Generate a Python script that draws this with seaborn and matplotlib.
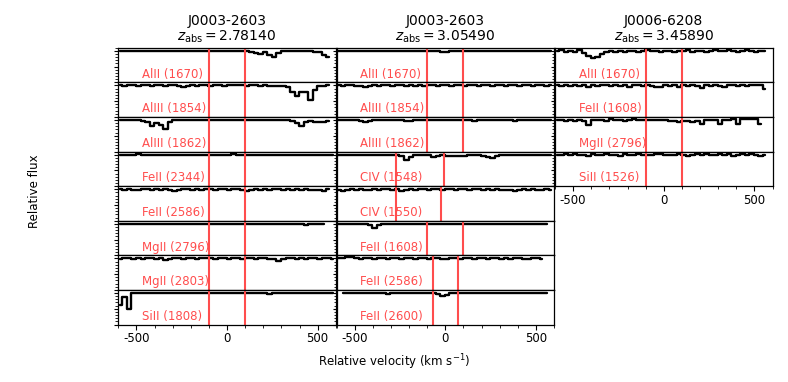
import numpy as np
import pandas as pd
import matplotlib
matplotlib.use("Agg")
import matplotlib.pyplot as plt
import seaborn as sns
from matplotlib.ticker import MultipleLocator

sns.set_style("ticks")
plt.rcParams['font.family'] = ['DejaVu Sans']
plt.rcParams['axes.unicode_minus'] = False
plt.rcParams['text.color'] = 'black'
plt.rcParams['axes.edgecolor'] = 'black'
plt.rcParams['axes.labelcolor'] = 'black'
plt.rcParams['xtick.color'] = 'black'
plt.rcParams['ytick.color'] = 'black'

nan = np.nan

# velocity bin centres (km/s)
velocity = [-590, -565, -540, -515, -490, -465, -440, -415, -390, -365, -340, -315,
            -290, -265, -240, -215, -190, -165, -140, -115, -90, -65, -40, -15,
            10, 35, 60, 85, 110, 135, 160, 185, 210, 235, 260, 285, 310, 335, 360, 385,
            410, 435, 460, 485, 510, 535, 560, 585]

# ---------- column 1 : J0003-2603, z = 2.78140 ----------
c1_alii_1670 = [1.00, 0.99, 1.00, 1.01, 1.00, 0.99, 1.00, 1.00, 0.99, 1.00, 1.01, 1.00,
                0.99, 1.00, 1.00, 0.99, 1.00, 1.01, 1.00, 1.00, 0.99, 1.00, 1.00, 0.99,
                1.00, 1.00, 1.01, 1.00, 0.99, 0.97, 0.92, 0.90, 0.95, 0.88, 0.81, 0.93,
                0.99, 1.00, 1.00, 0.99, 1.00, 0.99, 0.98, 0.97, 0.96, 0.88, 0.82, nan]
c1_aliii_1854 = [1.00, 0.99, 1.00, 1.00, 0.99, 1.00, 1.00, 0.99, 1.00, 1.00, 0.99, 1.00,
                 1.00, 0.97, 0.95, 0.97, 1.00, 0.99, 1.00, 1.00, 0.99, 1.00, 1.00, 0.99,
                 1.00, 1.01, 1.02, 1.00, 0.99, 1.00, 1.00, 0.99, 1.00, 0.99, 0.98, 0.97,
                 0.99, 0.95, 0.80, 0.66, 0.78, 0.80, 0.55, 0.85, 0.97, 0.99, 1.00, nan]
c1_aliii_1862 = [1.00, 0.99, 1.00, 1.00, 0.99, 0.98, 0.95, 0.80, 0.90, 0.85, 0.73, 0.95,
                 1.00, 1.00, 0.99, 1.00, 1.00, 0.99, 1.00, 1.00, 1.00, 0.99, 1.00, 1.00,
                 0.99, 1.00, 1.00, 1.00, 0.99, 1.00, 1.00, 0.99, 1.00, 1.00, 0.99, 1.00,
                 1.00, 0.99, 0.98, 0.92, 0.82, 0.95, 0.96, 0.95, 0.95, 0.94, 0.97, nan]
c1_feii_2344 = [1.00, 1.00, 0.99, 1.00, 1.01, 1.00, 0.99, 1.00, 1.00, 0.99, 1.00, 1.00,
                0.98, 1.00, 1.00, 0.99, 1.00, 1.00, 0.99, 1.00, 1.00, 1.00, 0.99, 1.00,
                1.00, 1.01, 1.00, 0.99, 1.00, 1.00, 0.99, 1.00, 1.00, 0.99, 1.00, 1.00,
                0.98, 1.00, 1.00, 0.99, 1.00, 1.00, 0.99, 1.00, 1.00, 1.00, 0.99, 1.00]
c1_feii_2586 = [1.00, 0.99, 1.00, 0.98, 0.99, 1.00, 1.00, 0.99, 1.00, 0.99, 1.00, 0.99,
                0.93, 0.99, 1.00, 1.00, 0.99, 1.00, 0.99, 1.00, 1.00, 0.99, 1.00, 1.00,
                0.99, 1.00, 1.00, 0.99, 0.94, 0.98, 1.00, 0.99, 1.00, 0.99, 1.00, 1.00,
                0.99, 1.00, 0.99, 1.00, 0.98, 1.00, 0.99, 0.98, 0.99, 0.95, 1.00, nan]
c1_mgii_2796 = [1.00, 1.00, 0.99, 1.00, 1.00, 0.99, 1.00, 1.00, 0.99, 0.99, 1.00, 1.00,
                0.99, 1.00, 0.98, 0.99, 1.00, 1.00, 0.99, 1.00, 1.00, 0.99, 1.00, 1.00,
                1.00, 0.99, 1.00, 1.00, 0.99, 1.00, 1.00, 0.99, 1.00, 1.00, 0.99, 1.00,
                1.00, 0.99, 1.00, 1.00, 0.99, 0.95, 1.00, 0.99, 1.00, 0.99, nan, nan]
c1_mgii_2803 = [0.99, 1.00, 1.00, 0.99, 1.00, 0.99, 1.00, 1.00, 0.99, 1.00, 0.94, 0.99,
                1.00, 1.00, 0.99, 1.00, 1.00, 0.99, 1.00, 1.00, 1.00, 0.99, 1.00, 1.00,
                0.99, 1.00, 1.00, 0.99, 1.00, 1.00, 0.99, 1.00, 1.00, 0.99, 0.98, 0.93,
                0.99, 1.00, 1.00, 0.99, 1.00, 0.99, 1.00, 1.00, 0.99, 1.00, 1.00, 0.99]
c1_sii_1808 = [0.63, 0.86, 0.50, 1.00, 1.00, 0.99, 1.00, 1.00, 0.99, 1.00, 1.00, 0.99,
               1.00, 1.00, 1.00, 0.99, 1.00, 1.00, 0.99, 1.00, 1.00, 0.99, 1.00, 1.00,
               0.99, 1.00, 1.00, 0.99, 1.00, 1.00, 0.99, 1.00, 1.00, 0.98, 0.99, 1.00,
               0.99, 1.00, 1.00, 0.99, 1.00, 1.00, 0.99, 1.00, 1.00, 1.00, 0.99, 1.00]

# ---------- column 2 : J0003-2603, z = 3.05490 ----------
c2_alii_1670 = [1.00, 0.99, 1.00, 1.00, 0.99, 1.00, 1.00, 0.99, 1.00, 1.00, 0.99, 1.00,
                1.00, 0.99, 1.00, 1.00, 0.99, 1.00, 1.00, 0.99, 1.00, 0.99, 0.98, 0.95,
                0.96, 0.99, 1.00, 1.00, 0.99, 1.00, 1.00, 0.99, 1.00, 1.00, 0.99, 1.00,
                1.00, 0.99, 1.00, 1.00, 0.99, 1.00, 1.00, 0.99, 1.00, 1.00, 0.99, 1.00]
c2_aliii_1854 = [1.00, 0.99, 1.00, 1.00, 0.99, 0.97, 0.96, 0.98, 1.00, 0.99, 1.00, 1.00,
                 0.99, 1.00, 1.00, 0.99, 1.00, 0.98, 1.00, 0.99, 1.00, 1.00, 0.99, 1.00,
                 1.00, 0.99, 1.00, 1.00, 0.99, 1.00, 1.00, 0.99, 1.00, 1.00, 0.99, 1.00,
                 1.00, 0.99, 1.00, 1.00, 0.99, 1.00, 1.00, 0.99, 1.00, 1.00, 0.99, 1.00]
c2_aliii_1862 = [1.00, 0.99, 1.00, 1.00, 0.99, 0.97, 0.95, 0.98, 1.00, 0.99, 1.00, 1.00,
                 0.99, 1.00, 0.99, 0.98, 0.97, 0.99, 1.00, 0.99, 1.00, 1.00, 0.99, 1.00,
                 1.00, 0.99, 1.00, 1.00, 0.99, 1.00, 0.98, 0.99, 1.00, 1.00, 0.99, 1.00,
                 1.00, 0.99, 1.00, 0.98, 0.99, 1.00, 1.00, 0.99, 1.00, 1.00, 0.99, 1.00]
c2_civ_1548 = [1.00, 0.99, 1.00, 1.00, 0.99, 1.00, 1.00, 0.99, 1.00, 1.00, 0.99, 1.00,
               1.00, 0.99, 0.95, 0.84, 0.93, 0.99, 1.00, 0.99, 0.98, 0.92, 0.97, 0.99,
               0.97, 0.96, 0.97, 0.96, 0.97, 0.98, 0.98, 0.99, 0.96, 0.92, 0.90, 0.96,
               0.99, 1.00, 0.99, 1.00, 1.00, 0.99, 1.00, 1.00, 0.99, 1.00, 1.00, 0.99]
c2_civ_1550 = [0.98, 0.95, 0.97, 1.00, 0.99, 1.00, 0.99, 0.98, 1.00, 0.99, 1.00, 1.00,
               0.99, 1.00, 0.94, 0.97, 1.00, 0.99, 1.00, 1.00, 0.99, 1.00, 1.00, 0.99,
               1.00, 1.00, 0.99, 1.00, 1.00, 0.99, 1.00, 1.00, 0.99, 1.00, 0.98, 1.00,
               0.99, 0.98, 0.97, 0.95, 0.98, 1.00, 0.99, 1.00, 0.99, 0.98, 1.00, 0.99]
c2_feii_1608 = [1.00, 0.99, 1.00, 1.00, 0.99, 1.00, 0.98, 0.95, 0.87, 0.96, 1.00, 0.99,
                1.00, 1.00, 0.99, 1.00, 1.00, 0.99, 1.00, 1.00, 0.99, 1.00, 1.00, 0.99,
                1.00, 1.00, 0.99, 1.00, 1.00, 0.99, 1.00, 1.00, 0.99, 1.00, 1.00, 0.99,
                1.00, 0.99, 1.00, 1.00, 0.99, 1.00, 1.00, 0.99, 1.00, 1.00, 0.99, nan]
c2_feii_2586 = [1.00, 1.01, 1.05, 1.04, 1.00, 0.99, 1.00, 1.00, 0.99, 1.00, 1.00, 0.99,
                1.00, 1.00, 0.99, 1.00, 1.00, 0.99, 1.00, 1.00, 0.99, 1.00, 1.00, 0.99,
                0.98, 1.00, 1.00, 0.99, 1.00, 1.00, 0.99, 1.00, 1.00, 0.99, 1.00, 1.00,
                0.99, 1.00, 0.99, 1.00, 1.00, 0.99, 0.98, 1.00, 1.00, 0.99, nan, nan]
c2_feii_2600 = [nan, 0.99, 1.00, 1.01, 1.00, 0.99, 1.00, 1.00, 0.99, 1.00, 1.00, 0.98,
                1.00, 1.00, 0.99, 1.00, 1.00, 0.99, 1.00, 1.00, 0.99, 1.00, 0.97, 0.90,
                0.95, 1.00, 0.99, 1.00, 1.00, 0.99, 1.00, 1.00, 1.01, 1.00, 0.99, 1.00,
                1.00, 0.99, 1.00, 1.00, 0.99, 1.00, 1.00, 0.99, 1.00, 1.00, 0.99, nan]

# ---------- column 3 : J0006-6208, z = 3.45890 ----------
c3_alii_1670 = [1.00, 1.02, 0.96, 1.01, 0.97, 1.02, 0.92, 0.85, 0.78, 0.80, 0.90, 0.96,
                0.98, 0.97, 1.00, 0.96, 0.99, 1.01, 0.97, 1.00, 1.02, 0.98, 1.00, 0.96,
                1.01, 0.99, 0.97, 1.00, 0.98, 1.02, 0.97, 1.00, 1.01, 0.95, 0.99, 1.02,
                0.98, 1.01, 1.03, 1.00, 0.97, 1.01, 1.02, 0.98, 0.97, 1.01, 0.98, nan]
c3_feii_1608 = [1.00, 0.98, 1.01, 0.97, 1.02, 0.99, 1.00, 0.96, 1.01, 0.98, 1.00, 1.02,
                0.97, 1.00, 0.99, 1.01, 0.96, 1.00, 1.02, 0.98, 1.00, 0.99, 0.94, 0.96,
                1.02, 0.99, 1.01, 0.96, 1.00, 0.98, 1.02, 0.99, 0.92, 1.00, 0.97, 1.01,
                0.98, 0.95, 1.00, 1.02, 0.98, 1.01, 0.97, 1.00, 1.02, 1.01, 0.88, nan]
c3_mgii_2796 = [1.00, 0.99, 0.96, 1.01, 0.98, 1.00, 0.97, 0.84, 1.00, 1.01, 1.00, 0.97,
                1.02, 0.99, 1.01, 0.97, 1.00, 1.02, 0.99, 1.00, 1.00, 1.00, 0.99, 1.00,
                1.00, 0.96, 0.96, 0.95, 0.96, 0.96, 0.95, 0.96, 0.87, 1.00, 1.00, 1.00,
                0.86, 1.01, 1.00, 1.02, 0.86, 1.02, 1.03, 1.03, 1.02, 0.88, nan, nan]
c3_sii_1526 = [1.00, 0.98, 1.01, 0.99, 1.02, 0.98, 1.00, 0.97, 1.01, 0.99, 1.00, 1.02,
               0.98, 1.00, 0.97, 1.01, 0.99, 1.00, 1.02, 0.98, 1.00, 0.99, 1.01, 1.02,
               0.99, 1.00, 0.98, 1.01, 1.00, 0.97, 1.00, 1.02, 0.99, 1.01, 0.98, 1.00,
               1.02, 0.99, 1.01, 0.97, 1.00, 1.02, 0.98, 1.01, 0.99, 0.97, 0.98, nan]

col_titles = ["J0003-2603\n$z_{\\rm abs} = 2.78140$",
              "J0003-2603\n$z_{\\rm abs} = 3.05490$",
              "J0006-6208\n$z_{\\rm abs} = 3.45890$"]

col1_labels = ["AlII (1670)", "AlIII (1854)", "AlIII (1862)", "FeII (2344)",
               "FeII (2586)", "MgII (2796)", "MgII (2803)", "SiII (1808)"]
col2_labels = ["AlII (1670)", "AlIII (1854)", "AlIII (1862)", "CIV (1548)",
               "CIV (1550)", "FeII (1608)", "FeII (2586)", "FeII (2600)"]
col3_labels = ["AlII (1670)", "FeII (1608)", "MgII (2796)", "SiII (1526)"]

col1_flux = [c1_alii_1670, c1_aliii_1854, c1_aliii_1862, c1_feii_2344,
             c1_feii_2586, c1_mgii_2796, c1_mgii_2803, c1_sii_1808]
col2_flux = [c2_alii_1670, c2_aliii_1854, c2_aliii_1862, c2_civ_1548,
             c2_civ_1550, c2_feii_1608, c2_feii_2586, c2_feii_2600]
col3_flux = [c3_alii_1670, c3_feii_1608, c3_mgii_2796, c3_sii_1526]

col1_marks = [(-100, 100)] * 8
col2_marks = [(-100, 100), (-100, 100), (-100, 100), (-273, -8),
              (-273, -24), (-100, 100), (-66, 71), (-66, 71)]
col3_marks = [(-100, 100)] * 4

columns = [(col1_labels, col1_flux, col1_marks),
           (col2_labels, col2_flux, col2_marks),
           (col3_labels, col3_flux, col3_marks)]

W, H = 788, 382
fig = plt.figure(figsize=(W / 100, H / 100), dpi=100)

col_left = [118.3, 336.5, 555.0]
col_w = 217.5
row_h = 34.6
top_px = 47.7
red = (1.0, 0.3, 0.3)

for ci, (labels, fluxes, marks) in enumerate(columns):
    n = len(labels)
    for ri in range(n):
        y0 = H - (top_px + (ri + 1) * row_h)
        ax = fig.add_axes([col_left[ci] / W, y0 / H, col_w / W, row_h / H])
        df = pd.DataFrame({"v": velocity, "f": fluxes[ri]}).dropna()
        sns.lineplot(data=df, x="v", y="f", ax=ax, color="black", lw=1.7,
                     drawstyle="steps-mid", estimator=None, sort=True)
        for m in marks[ri]:
            ax.axvline(m, color=red, lw=1.5)
        ax.text(0.11, 0.05, labels[ri], transform=ax.transAxes, color=red,
                fontsize=8.5, ha="left", va="bottom")
        ax.set_xlim(-600, 600)
        ax.set_ylim(0, 1.1)
        ax.set_xlabel("")
        ax.set_ylabel("")
        for s in ax.spines.values():
            s.set_linewidth(0.9)
            s.set_visible(True)
            s.set_color("black")
        ax.yaxis.set_major_locator(MultipleLocator(0.5))
        ax.yaxis.set_minor_locator(MultipleLocator(0.1))
        ax.tick_params(axis="y", which="major", length=3, width=0.8, direction="out",
                       labelleft=False, left=True, right=False)
        ax.tick_params(axis="y", which="minor", length=2, width=0.6, direction="out",
                       left=True, right=False)
        ax.xaxis.set_major_locator(MultipleLocator(500))
        ax.xaxis.set_minor_locator(MultipleLocator(100))
        if ri == n - 1:
            ax.tick_params(axis="x", which="major", length=3.5, width=0.8,
                           labelsize=8.5, pad=2)
            ax.tick_params(axis="x", which="minor", length=2, width=0.6)
        else:
            ax.tick_params(axis="x", which="both", bottom=False, labelbottom=False)
        if ri == 0:
            ax.set_title(col_titles[ci], fontsize=10, pad=5, linespacing=1.05,
                         color="black")

fig.text(0.5, 1 - 362 / H, "Relative velocity (km s$^{-1}$)", ha="center",
         va="center", fontsize=8.5)
fig.text(35 / W, 0.5, "Relative flux", rotation=90, ha="center", va="center",
         fontsize=8.5)

fig.savefig("out.png", dpi=100)
